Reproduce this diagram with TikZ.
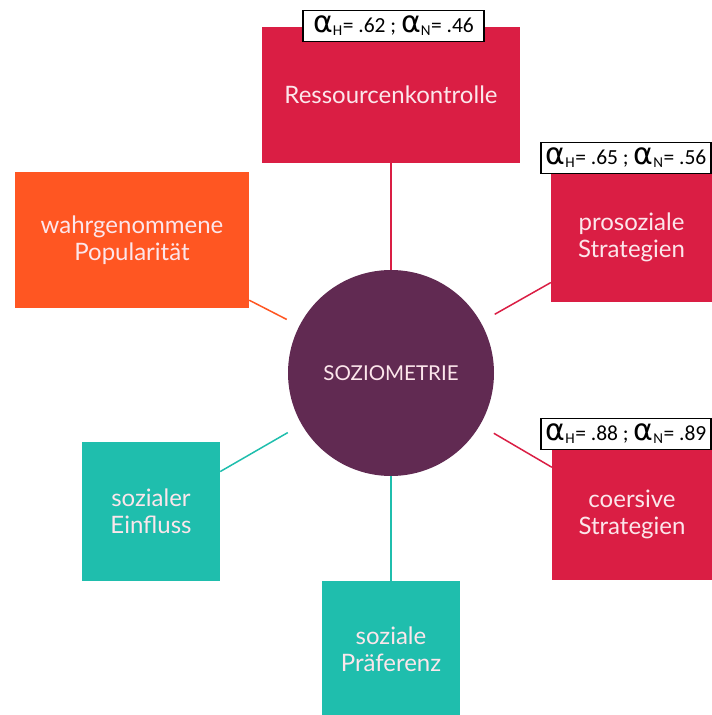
\documentclass[tikz,border=0pt]{standalone}
\usepackage{fontspec}
\setmainfont{Lato}
\newfontfamily\alphafont{DejaVu Sans}
\newfontfamily\labelfont{Carlito}
\usepackage{tikz}
\definecolor{rotbox}{RGB}{218,30,68}
\definecolor{orangebox}{RGB}{255,86,34}
\definecolor{tuerkis}{RGB}{31,190,173}
\definecolor{lila}{RGB}{97,42,82}
\definecolor{schrift}{RGB}{252,230,235}
\newcommand{\alphasym}{{\alphafont\fontsize{30}{30}\selectfont α}}
\newcommand{\reliab}[2]{\alphasym\textsubscript{H}= .#1 ; \alphasym\textsubscript{N}= .#2}
\tikzstyle{kreis} = [circle, minimum size=206pt, inner sep=0pt, fill=lila, text=schrift, font=\fontsize{20.5}{20.5}\selectfont]
\tikzstyle{rotskala} = [rectangle, inner sep=0pt, align=center, fill=rotbox, text=schrift, font=\fontsize{24}{27}\selectfont]
\tikzstyle{orangeskala} = [rectangle, inner sep=0pt, align=center, fill=orangebox, text=schrift, font=\fontsize{24}{27}\selectfont]
\tikzstyle{tuerkisskala} = [rectangle, inner sep=0pt, align=center, fill=tuerkis, text=schrift, font=\fontsize{24}{27}\selectfont]
\tikzstyle{alphabox} = [rectangle, inner sep=0pt, draw=black, line width=1.2pt, fill=white, minimum height=31pt, font=\labelfont\fontsize{21.5}{21.5}\selectfont]
\tikzstyle{linie} = [line width=1.5pt]

\begin{document}
\begin{tikzpicture}[x=1pt, y=-1pt]
		\useasboundingbox (0,0) rectangle (712,715);
		\node (soz) [kreis] at (391,373) {SOZIOMETRIE};
		\node (res) [rotskala, minimum width=258pt, minimum height=136pt] at (391,95) {Ressourcenkontrolle};
		\node (pro) [rotskala, minimum width=161pt, minimum height=130pt] at (631.5,237) {prosoziale\\Strategien};
		\node (coe) [rotskala, minimum width=160pt, minimum height=132pt] at (632,514) {coersive\\Strategien};
		\node (pop) [orangeskala, minimum width=234pt, minimum height=136pt] at (132,240) {wahrgenommene\\Popularität};
		\node (einf) [tuerkisskala, minimum width=138pt, minimum height=139pt] at (151,511.5) {sozialer\\Einfluss};
		\node (pref) [tuerkisskala, minimum width=138pt, minimum height=136pt] at (391,649) {soziale\\Präferenz};
		\node (a1) [alphabox, minimum width=181pt] at (393.5,26) {\reliab{62}{46}};
		\node (a2) [alphabox, minimum width=170pt] at (626,158) {\reliab{65}{56}};
		\node (a3) [alphabox, minimum width=170pt] at (626,434) {\reliab{88}{89}};
		\draw [linie, rotbox] (soz) -- (res);
		\draw [linie, rotbox, shorten <=16pt] (soz) -- (pro);
		\draw [linie, rotbox, shorten <=16pt] (soz) -- (coe);
		\draw [linie, orangebox, shorten <=14pt] (soz) -- (pop);
		\draw [linie, tuerkis, shorten <=16pt] (soz) -- (einf);
		\draw [linie, tuerkis] (soz) -- (pref);
		\end{tikzpicture}
\end{document}
